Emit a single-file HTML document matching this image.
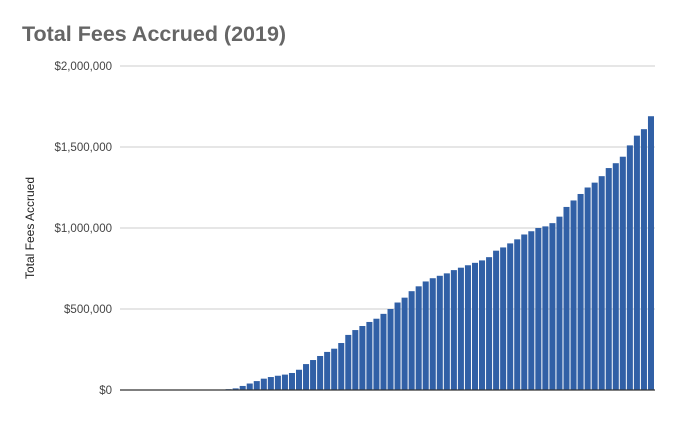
<!DOCTYPE html>
<html><head><meta charset="utf-8"><style>
body{margin:0;background:#fff;font-family:"Liberation Sans",Arial,sans-serif}
</style></head><body>
<svg id="chart" width="676" height="418" xmlns="http://www.w3.org/2000/svg">
<text x="22" y="41" font-size="21.5" font-weight="bold" fill="#666">Total Fees Accrued (2019)</text>
<text transform="translate(34,228) rotate(-90)" text-anchor="middle" font-size="12" fill="#222">Total Fees Accrued</text>
<g id="grid"></g><g id="bars"></g>
<line x1="120" x2="655" y1="390" y2="390" stroke="#333" stroke-width="1.3"/>
</svg>
<script>
const ticks=[0,500000,1000000,1500000,2000000];
const tickLabels=["$0","$500,000","$1,000,000","$1,500,000","$2,000,000"];
const values=[0,0,0,0,0,0,0,0,0,0,
3000,3000,3000,3000,3000,5000,10000,25000,40000,55000,
70000,80000,88000,95000,105000,125000,160000,185000,210000,235000,
255000,290000,340000,370000,395000,420000,440000,470000,500000,540000,
570000,610000,640000,670000,690000,705000,720000,740000,755000,770000,
785000,800000,820000,860000,880000,905000,930000,960000,980000,1000000,
1010000,1030000,1070000,1130000,1170000,1210000,1250000,1280000,1320000,1370000,
1400000,1440000,1510000,1570000,1610000,1690000];
const NS="http://www.w3.org/2000/svg";
const x0=120,x1=655,y0=390,y1=66;
const yScale=v=>y0-(v/2000000)*(y0-y1);
const bw=(x1-x0)/values.length;
const xScale=i=>x0+i*bw;
const grid=document.getElementById('grid');
ticks.forEach((t,i)=>{
 const l=document.createElementNS(NS,'line');
 l.setAttribute('x1',x0);l.setAttribute('x2',x1);
 l.setAttribute('y1',yScale(t));l.setAttribute('y2',yScale(t));
 l.setAttribute('stroke','#ccc');
 
 
 grid.appendChild(l);
 const tx=document.createElementNS(NS,'text');
 tx.setAttribute('x',112);tx.setAttribute('y',yScale(t)+4);
 tx.setAttribute('text-anchor','end');tx.setAttribute('font-size','11.5');tx.setAttribute('fill','#444');
 tx.textContent=tickLabels[i];
 
 
 grid.appendChild(tx);
});
const bars=document.getElementById('bars');
values.forEach((v,i)=>{
 const r=document.createElementNS(NS,'rect');
 const y=yScale(v);
 r.setAttribute('x',xScale(i));r.setAttribute('width',bw-1);
 r.setAttribute('y',y);r.setAttribute('height',y0-y);
 r.setAttribute('fill','#3160a6');
 
 
 bars.appendChild(r);
});
</script>
</body></html>
